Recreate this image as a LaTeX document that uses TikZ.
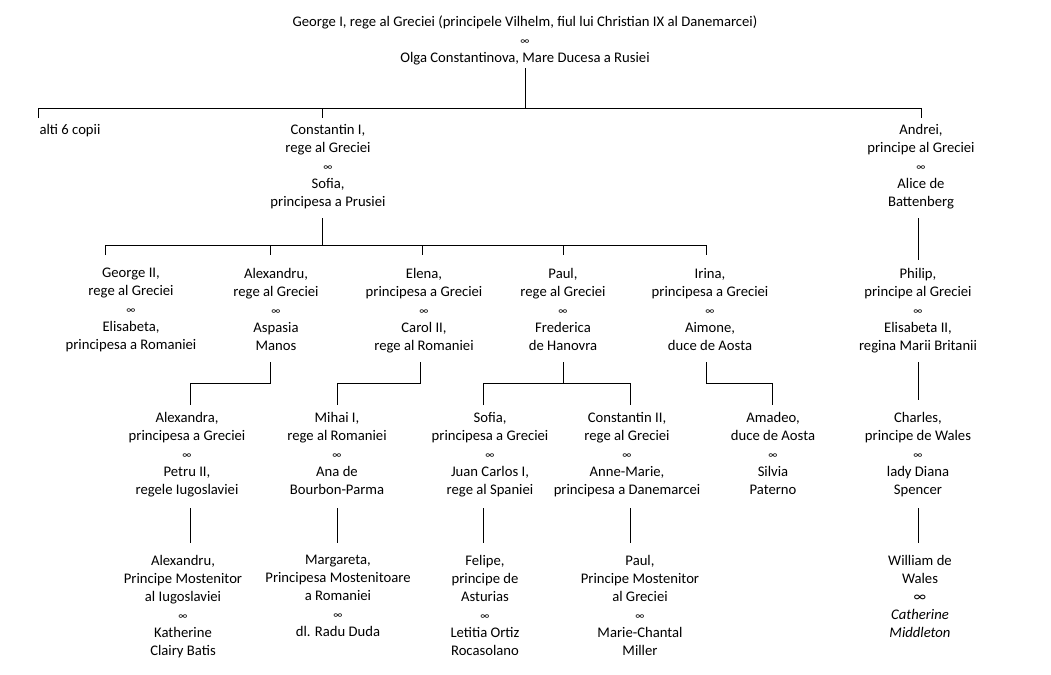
\documentclass[tikz,border=0pt]{standalone}
\usepackage{fontspec}
\setmainfont{Carlito}
\begin{document}
\begin{tikzpicture}[x=0.75pt,y=-0.75pt,
  p/.style={align=center,inner sep=0pt,anchor=north,yshift=-1.5pt,font=\fontsize{11}{13.5}\selectfont},
  ln/.style={line width=0.75pt,black}]
\useasboundingbox (0,0) rectangle (1051,675);
\def\m{\footnotesize∞}
% top
\node[p] (g1) at (525,14) {George I, rege al Greciei (principele Vilhelm, fiul lui Christian IX al Danemarcei)\\ \m\\ Olga Constantinova, Mare Ducesa a Rusiei};
% level 1
\node[p] (alti) at (70,122) {alti 6 copii};
\node[p] (c1) at (328,122) {Constantin I,\\ rege al Greciei\\ \m\\ Sofia,\\ principesa a Prusiei};
\node[p] (an) at (921,122) {Andrei,\\ principe al Greciei\\ \m\\ Alice de\\ Battenberg};
% level 2
\node[p] (g2) at (131,266) {George II,\\ rege al Greciei\\ \m\\ Elisabeta,\\ principesa a Romaniei};
\node[p] (al) at (276,266) {Alexandru,\\ rege al Greciei\\ \m\\ Aspasia\\ Manos};
\node[p] (el) at (424,266) {Elena,\\ principesa a Greciei\\ \m\\ Carol II,\\ rege al Romaniei};
\node[p] (pa) at (563,266) {Paul,\\ rege al Greciei\\ \m\\ Frederica\\ de Hanovra};
\node[p] (ir) at (710,266) {Irina,\\ principesa a Greciei\\ \m\\ Aimone,\\ duce de Aosta};
\node[p] (ph) at (918,266) {Philip,\\ principe al Greciei\\ \m\\ Elisabeta II,\\ regina Marii Britanii};
% level 3
\node[p] (ax) at (187,410) {Alexandra,\\ principesa a Greciei\\ \m\\ Petru II,\\ regele Iugoslaviei};
\node[p] (mi) at (337,410) {Mihai I,\\ rege al Romaniei\\ \m\\ Ana de\\ Bourbon-Parma};
\node[p] (so) at (490,410) {Sofia,\\ principesa a Greciei\\ \m\\ Juan Carlos I,\\ rege al Spaniei};
\node[p] (c2) at (627,410) {Constantin II,\\ rege al Greciei\\ \m\\ Anne-Marie,\\ principesa a Danemarcei};
\node[p] (am) at (773,410) {Amadeo,\\ duce de Aosta\\ \m\\ Silvia\\ Paterno};
\node[p] (ch) at (918,410) {Charles,\\ principe de Wales\\ \m\\ lady Diana\\ Spencer};
% level 4
\node[p] (ay) at (183,553) {Alexandru,\\ Principe Mostenitor\\ al Iugoslaviei\\ \m\\ Katherine\\ Clairy Batis};
\node[p] (ma) at (338,553) {Margareta,\\ Principesa Mostenitoare\\ a Romaniei\\ \m\\ dl. Radu Duda};
\node[p] (fe) at (485,553) {Felipe,\\ principe de\\ Asturias\\ \m\\ Letitia Ortiz\\ Rocasolano};
\node[p] (pb) at (640,553) {Paul,\\ Principe Mostenitor\\ al Greciei\\ \m\\ Marie-Chantal\\ Miller};
\node[p] (wi) at (920,553) {William de\\ Wales\\ ∞\\ \textit{Catherine}\\ \textit{Middleton}};
% connectors
\draw[ln] (525,68) -- (525,108);
\draw[ln] (38,118) -- (38,108) -- (921,108) -- (921,118);
\draw[ln] (322,108) -- (322,118);
\draw[ln] (322,218) -- (322,245);
\draw[ln] (105,255) -- (105,245) -- (706,245) -- (706,255);
\foreach \x in {270,422,563} \draw[ln] (\x,245) -- (\x,255);
\draw[ln] (918,218) -- (918,260);
\draw[ln] (270,362) -- (270,383) -- (190,383) -- (190,405);
\draw[ln] (420,362) -- (420,383) -- (337,383) -- (337,405);
\draw[ln] (563,362) -- (563,383);
\draw[ln] (483,405) -- (483,383) -- (630,383) -- (630,405);
\draw[ln] (706,362) -- (706,383) -- (772,383) -- (772,405);
\draw[ln] (918,362) -- (918,400);
\foreach \x in {190,337,483,630,918} \draw[ln] (\x,508) -- (\x,543);
\end{tikzpicture}
\end{document}
